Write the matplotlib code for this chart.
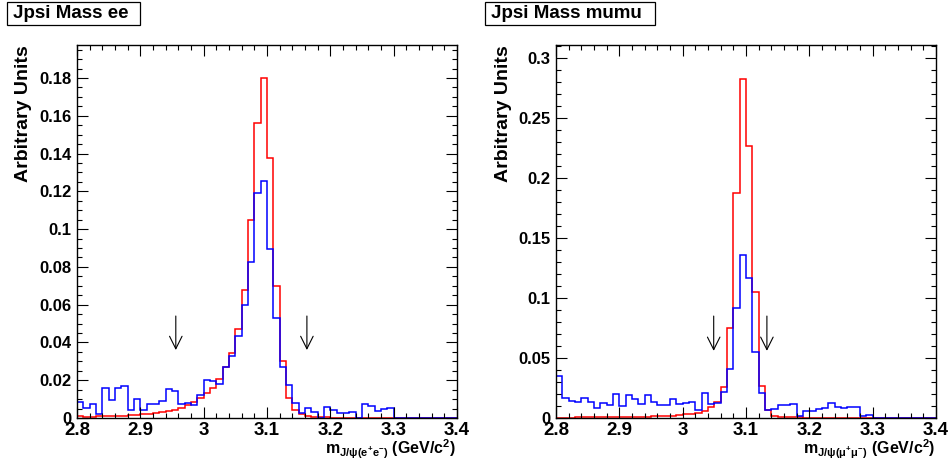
import numpy as np
import matplotlib
matplotlib.use("Agg")
import matplotlib.pyplot as plt
from matplotlib.ticker import MultipleLocator, FuncFormatter
from matplotlib.patches import Rectangle

plt.rcParams['font.family'] = ['Liberation Sans', 'DejaVu Sans']
plt.rcParams['font.weight'] = 'bold'
plt.rcParams['mathtext.fontset'] = 'custom'
plt.rcParams['mathtext.rm'] = 'Liberation Sans:bold'
plt.rcParams['mathtext.it'] = 'Liberation Sans:bold'
plt.rcParams['mathtext.bf'] = 'Liberation Sans:bold'

# ---------------- data ----------------
bin_edges = np.round(np.arange(2.80, 3.4001, 0.01), 3)

ee_red = [0.0010, 0.0007, 0.0007, 0.0008, 0.0009, 0.0010, 0.0012, 0.0013, 0.0015, 0.0016,
          0.0019, 0.0022, 0.0027, 0.0031, 0.0036, 0.0042, 0.0052, 0.0068, 0.0085, 0.0104,
          0.0132, 0.0157, 0.0208, 0.0268, 0.0342, 0.0470, 0.0680, 0.1046, 0.1560, 0.1798,
          0.1378, 0.0700, 0.0300, 0.0106, 0.0042, 0.0020, 0.0012, 0.0006, 0.0004, 0.0003,
          0.0002, 0.0002, 0.0002, 0.0002, 0.0002, 0.0001, 0.0001, 0.0001, 0.0001, 0.0001,
          0.0001, 0.0001, 0.0001, 0.0001, 0.0001, 0.0001, 0.0001, 0.0001, 0.0001, 0.0001]

ee_blue = [0.0083, 0.0051, 0.0072, 0.0021, 0.0160, 0.0094, 0.0157, 0.0168, 0.0042, 0.0100,
           0.0044, 0.0076, 0.0072, 0.0090, 0.0155, 0.0143, 0.0074, 0.0082, 0.0068, 0.0120,
           0.0200, 0.0195, 0.0180, 0.0270, 0.0330, 0.0432, 0.0596, 0.0826, 0.1190, 0.1256,
           0.0895, 0.0528, 0.0268, 0.0174, 0.0082, 0.0026, 0.0053, 0.0032, 0.0000, 0.0060,
           0.0041, 0.0025, 0.0028, 0.0030, 0.0000, 0.0076, 0.0064, 0.0037, 0.0048, 0.0055,
           0.0, 0.0, 0.0, 0.0, 0.0, 0.0, 0.0, 0.0, 0.0, 0.0]

mumu_red = [0.0004, 0.0004, 0.0004, 0.0005, 0.0005, 0.0005, 0.0006, 0.0006, 0.0007, 0.0007,
            0.0008, 0.0008, 0.0009, 0.0010, 0.0011, 0.0013, 0.0015, 0.0017, 0.0020, 0.0023,
            0.0030, 0.0037, 0.0045, 0.0060, 0.0094, 0.0130, 0.0260, 0.0750, 0.1880, 0.2830,
            0.2267, 0.1050, 0.0270, 0.0070, 0.0020, 0.0012, 0.0008, 0.0006, 0.0005, 0.0004,
            0.0003, 0.0003, 0.0003, 0.0003, 0.0002, 0.0002, 0.0002, 0.0002, 0.0002, 0.0002,
            0.0001, 0.0001, 0.0001, 0.0001, 0.0001, 0.0001, 0.0001, 0.0001, 0.0001, 0.0001]

mumu_blue = [0.0350, 0.0170, 0.0140, 0.0135, 0.0165, 0.0130, 0.0085, 0.0125, 0.0105, 0.0200,
             0.0100, 0.0190, 0.0160, 0.0120, 0.0190, 0.0130, 0.0105, 0.0105, 0.0155, 0.0120,
             0.0128, 0.0130, 0.0070, 0.0205, 0.0120, 0.0128, 0.0214, 0.0410, 0.0915, 0.1358,
             0.1170, 0.0550, 0.0206, 0.0067, 0.0075, 0.0105, 0.0110, 0.0114, 0.0020, 0.0060,
             0.0060, 0.0072, 0.0086, 0.0125, 0.0090, 0.0083, 0.0094, 0.0090, 0.0020, 0.0025,
             0.0, 0.0, 0.0, 0.0, 0.0, 0.0, 0.0, 0.0, 0.0, 0.0]

titles = ["Jpsi Mass ee", "Jpsi Mass mumu"]
xlabels = [r"$\mathregular{m}_{\mathregular{J/\psi(e^{+}e^{-})}}$ (GeV/c$^{\mathregular{2}}$)",
           r"$\mathregular{m}_{\mathregular{J/\psi(\mu^{+}\mu^{-})}}$ (GeV/c$^{\mathregular{2}}$)"]
ylabel = "Arbitrary Units"
ee_arrows = [2.956, 3.163]
mumu_arrows = [3.049, 3.133]
ee_arrow_y = (0.054, 0.036)
mumu_arrow_y = (0.085, 0.056)
ymax = [0.1975, 0.311]

# ---------------- figure ----------------
W, H = 950, 468
fig = plt.figure(figsize=(W / 100, H / 100), dpi=100)

def fmt(v, pos):
    return "%g" % round(v, 4)

panels = [
    dict(left=77, red=ee_red, blue=ee_blue, arrows=ee_arrows, ay=ee_arrow_y,
         ymaj=0.02, ymin=0.005, ymax=ymax[0], title=titles[0], box=(7, 140),
         xlabel=xlabels[0]),
    dict(left=556, red=mumu_red, blue=mumu_blue, arrows=mumu_arrows, ay=mumu_arrow_y,
         ymaj=0.05, ymin=0.01, ymax=ymax[1], title=titles[1], box=(485, 655),
         xlabel=xlabels[1]),
]

for p in panels:
    ax = fig.add_axes([p['left'] / W, 50 / H, 380 / W, 373 / H])
    ax.stairs(p['red'], bin_edges, color='#ff0000', lw=1.1, baseline=None)
    ax.stairs(p['blue'], bin_edges, color='#0000ff', lw=1.1, baseline=None)
    ax.set_xlim(2.8, 3.4)
    ax.set_ylim(0, p['ymax'])
    ax.xaxis.set_major_locator(MultipleLocator(0.1))
    ax.xaxis.set_minor_locator(MultipleLocator(0.02))
    ax.yaxis.set_major_locator(MultipleLocator(p['ymaj']))
    ax.yaxis.set_minor_locator(MultipleLocator(p['ymin']))
    ax.xaxis.set_major_formatter(FuncFormatter(fmt))
    ax.yaxis.set_major_formatter(FuncFormatter(fmt))
    ax.tick_params(which='both', direction='in', top=True, right=True, width=0.8, color='black')
    ax.tick_params(which='major', length=8)
    ax.tick_params(which='minor', length=3.8)
    ax.tick_params(axis='x', which='major', labelsize=13.5, pad=3)
    ax.tick_params(axis='y', which='major', labelsize=12, pad=4)
    for lab in ax.get_xticklabels() + ax.get_yticklabels():
        lab.set_fontweight('bold')
    for s in ax.spines.values():
        s.set_linewidth(1.0)
    for xa in p['arrows']:
        ax.annotate("", xy=(xa, p['ay'][1]), xytext=(xa, p['ay'][0]),
                    arrowprops=dict(arrowstyle="->,head_length=0.9,head_width=0.45",
                                    color='black', lw=0.8, shrinkA=0, shrinkB=0,
                                    mutation_scale=10))
    # title box
    x0, x1 = p['box']
    fig.patches.append(Rectangle((x0 / W, 1 - 25 / H), (x1 - x0) / W, 23 / H,
                                 transform=fig.transFigure, facecolor='white',
                                 edgecolor='black', lw=0.9))
    fig.text((x0 + 6) / W, 1 - 14 / H, p['title'], fontsize=13.5, fontweight='bold',
             ha='left', va='center')
    # y label
    fig.text((p['left'] - 53) / W, 1 - 45 / H, ylabel, rotation=90, fontsize=14,
             fontweight='bold', ha='center', va='top')
    # x label
    fig.text((p['left'] + 379) / W, 1 - 454 / H, p['xlabel'], fontsize=11.5,
             fontweight='bold', ha='right', va='baseline')

fig.savefig("out.png", dpi=100)
